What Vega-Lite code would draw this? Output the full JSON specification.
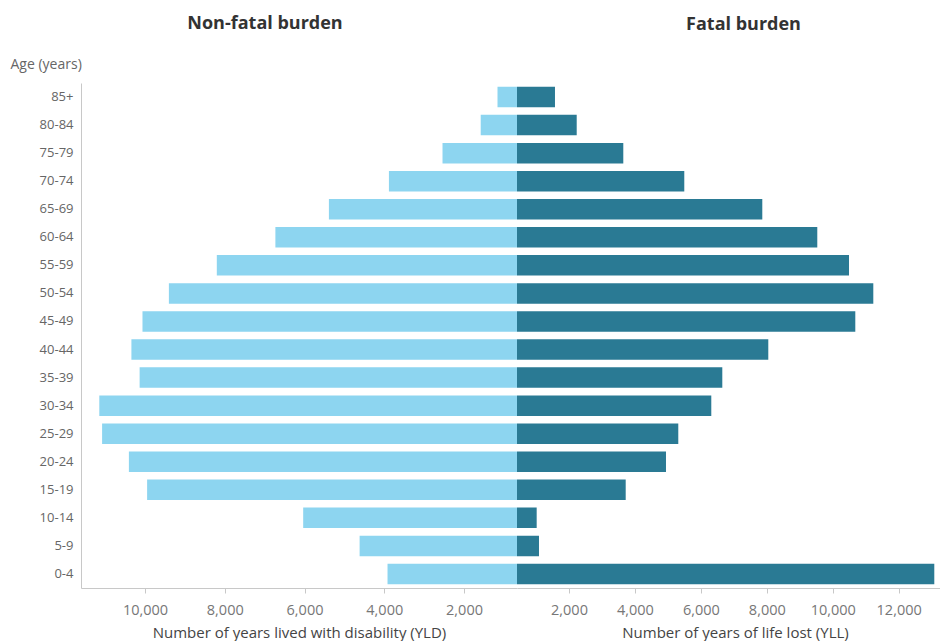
{
  "$schema": "https://vega.github.io/schema/vega-lite/v6.json",
  "background": "white",
  "padding": {"left": 10, "top": 15, "right": 0, "bottom": 0},
  "datasets": {
    "burden": [
      {"age": "85+", "yld": 1160, "yll": 1575},
      {"age": "80-84", "yld": 1581, "yll": 2234},
      {"age": "75-79", "yld": 2539, "yll": 3647},
      {"age": "70-74", "yld": 3883, "yll": 5497},
      {"age": "65-69", "yld": 5388, "yll": 7863},
      {"age": "60-64", "yld": 6730, "yll": 9531},
      {"age": "55-59", "yld": 8199, "yll": 10493},
      {"age": "50-54", "yld": 9401, "yll": 11230},
      {"age": "45-49", "yld": 10063, "yll": 10684},
      {"age": "40-44", "yld": 10341, "yll": 8045},
      {"age": "35-39", "yld": 10135, "yll": 6650},
      {"age": "30-34", "yld": 11146, "yll": 6316},
      {"age": "25-29", "yld": 11076, "yll": 5315},
      {"age": "20-24", "yld": 10404, "yll": 4942},
      {"age": "15-19", "yld": 9947, "yll": 3720},
      {"age": "10-14", "yld": 6033, "yll": 1020},
      {"age": "5-9", "yld": 4618, "yll": 1090},
      {"age": "0-4", "yld": 3918, "yll": 13080}
    ]
  },
  "data": {"name": "burden"},
  "spacing": 0,
  "config": {
    "view": {"stroke": null},
    "font": "Open Sans",
    "axis": {
      "grid": false,
      "domainColor": "#c8c8c8",
      "tickColor": "#c8c8c8",
      "tickSize": 5,
      "labelColor": "#777777",
      "labelFontSize": 14.5,
      "labelPadding": 10,
      "titleColor": "#444444",
      "titleFontSize": 15,
      "titleFontWeight": "normal",
      "titlePadding": 9
    },
    "title": {"fontSize": 18, "fontWeight": "bold", "color": "#333333"}
  },
  "hconcat": [
    {
      "width": 436,
      "height": 505,
      "title": {"text": "Non-fatal burden", "dx": -34, "offset": 24},
      "mark": {"type": "bar", "clip": true, "color": "#8DD5F0"},
      "encoding": {
        "y": {
          "field": "age",
          "type": "nominal",
          "sort": ["85+", "80-84", "75-79", "70-74", "65-69", "60-64", "55-59", "50-54", "45-49", "40-44", "35-39", "30-34", "25-29", "20-24", "15-19", "10-14", "5-9", "0-4"],
          "scale": {"paddingInner": 0.27, "paddingOuter": 0.135},
          "axis": {
            "title": "Age (years)",
            "titleAngle": 0,
            "titleAlign": "left",
            "titleBaseline": "middle",
            "titleX": -71,
            "titleY": -19,
            "titleFontSize": 14,
            "titleColor": "#666666",
            "labelColor": "#666666",
            "labelFontSize": 13,
            "ticks": false,
            "labelPadding": 8
          }
        },
        "x": {
          "field": "yld",
          "type": "quantitative",
          "scale": {"domain": [671, 11605], "reverse": true, "zero": false, "nice": false},
          "axis": {
            "title": "Number of years lived with disability (YLD)",
            "values": [2000, 4000, 6000, 8000, 10000],
            "format": ",.0f"
          }
        }
      }
    },
    {
      "width": 423,
      "height": 505,
      "title": {"text": "Fatal burden", "dx": 15, "offset": 49},
      "mark": {"type": "bar", "clip": true, "color": "#2A7A94"},
      "encoding": {
        "y": {
          "field": "age",
          "type": "nominal",
          "sort": ["85+", "80-84", "75-79", "70-74", "65-69", "60-64", "55-59", "50-54", "45-49", "40-44", "35-39", "30-34", "25-29", "20-24", "15-19", "10-14", "5-9", "0-4"],
          "scale": {"paddingInner": 0.27, "paddingOuter": 0.135},
          "axis": null
        },
        "x": {
          "field": "yll",
          "type": "quantitative",
          "scale": {"domain": [423, 13253], "zero": false, "nice": false},
          "axis": {
            "title": "Number of years of life lost (YLL)",
            "titleX": 218,
            "values": [2000, 4000, 6000, 8000, 10000, 12000],
            "format": ",.0f"
          }
        }
      }
    }
  ]
}
